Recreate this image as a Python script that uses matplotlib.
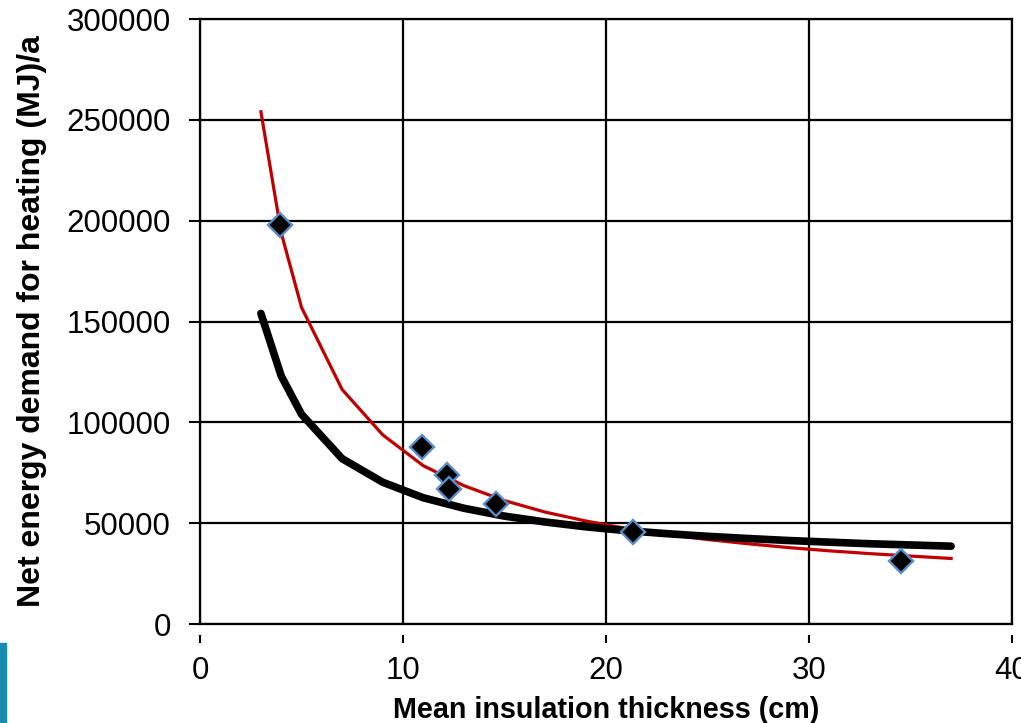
# Heating demand vs mean insulation thickness
import numpy as np
import matplotlib
matplotlib.use("Agg")
from matplotlib import pyplot as plt
from matplotlib.patches import Rectangle

plt.rcParams['font.family'] = ['Liberation Sans', 'DejaVu Sans']

# %% Data
curve_x = [3, 4, 5, 7, 9, 11, 13, 15, 17, 19, 21, 23, 25, 27, 29, 31, 33, 35, 37]
black_y = [154000, 123000, 104000, 82000, 70300, 62600, 57400, 53500, 50600,
           48200, 46300, 44800, 43500, 42400, 41400, 40600, 39800, 39200, 38600]
red_y = [254000, 194000, 157000, 116300, 93800, 78500, 68600, 61200, 55500,
         51100, 47400, 44400, 41900, 39800, 37900, 36300, 34900, 33700, 32500]
meas_x = [3.94, 10.92, 12.15, 12.28, 14.58, 21.35, 34.53]
meas_y = [198000, 88000, 74000, 67000, 59500, 45500, 31300]

xticks = [0, 10, 20, 30, 40]
yticks = [0, 50000, 100000, 150000, 200000, 250000, 300000]

# %% Figure
fig = plt.figure(figsize=(10.21, 7.23), dpi=100)
ax = fig.add_axes([0.1959, 0.1369, 0.7953, 0.8368])

ax.plot(curve_x, red_y, color='#C00000', lw=2.3, zorder=3)
ax.plot(curve_x, black_y, color='black', lw=5.5, solid_capstyle='round',
        solid_joinstyle='round', zorder=4)
ax.plot(meas_x, meas_y, ls='none', marker='D', ms=12, mfc='black',
        mec='#5B8CC8', mew=1.7, zorder=5)

ax.set_xlim(0, 40)
ax.set_ylim(0, 300000)

# grid and frame
ax.grid(True, color='black', lw=1.6, zorder=1)
for s in ['left', 'top', 'right']:
    ax.spines[s].set_color('black')
    ax.spines[s].set_linewidth(1.6)
ax.spines['bottom'].set_position(('outward', 8))
ax.spines['bottom'].set_color('none')
ax.axhline(0, color='black', lw=1.6, clip_on=False, zorder=2)

ax.set_xticks(xticks)
ax.set_yticks(yticks)
ax.set_xticklabels([str(t) for t in xticks])
ax.set_yticklabels([str(t) for t in yticks])
ax.tick_params(axis='y', direction='out', length=8, width=1.5, pad=13,
               labelsize=22.5)
ax.tick_params(axis='x', direction='out', length=6, width=1.5, pad=9,
               labelsize=22.5)

ax.set_xlabel('Mean insulation thickness (cm)', fontsize=20.7,
              fontweight='bold', labelpad=7)
ax.set_ylabel('Net energy demand for heating (MJ)/a', fontsize=23,
              fontweight='bold', labelpad=14)

# teal bar at bottom-left edge
fig.patches.append(Rectangle((0, 0), 6 / 1021, 80 / 723, transform=fig.transFigure,
                             color='#1A8BB0', zorder=0))

fig.savefig('out.png', dpi=100)
